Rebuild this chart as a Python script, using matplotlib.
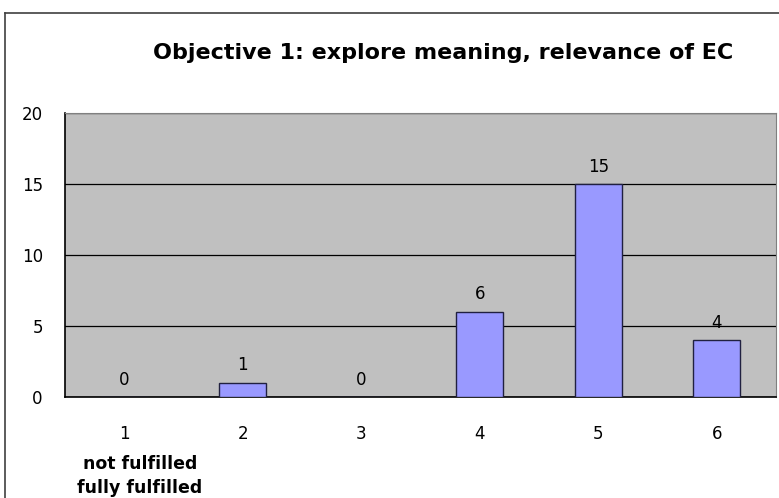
import matplotlib.pyplot as plt
from matplotlib.lines import Line2D

# Data
categories = ["1", "2", "3", "4", "5", "6"]
counts = [0, 1, 0, 6, 15, 4]
y_ticks = [0, 5, 10, 15, 20]
title = "Objective 1: explore meaning, relevance of EC"
note_lines = ["not fulfilled", "fully fulfilled"]

plt.rcParams['font.family'] = ['DejaVu Sans']

fig = plt.figure(figsize=(7.79, 4.98), dpi=100)
fig.patch.set_facecolor('white')

# Outer chart border (top and left visible)
fig.add_artist(Line2D([5 / 779, 1.0], [1 - 13 / 498, 1 - 13 / 498],
                      transform=fig.transFigure, color='#404040', lw=1.2))
fig.add_artist(Line2D([5 / 779, 5 / 779], [0.0, 1 - 13 / 498],
                      transform=fig.transFigure, color='#404040', lw=1.2))

ax = fig.add_axes([65 / 779, 101 / 498, 711 / 779, 284 / 498])
ax.set_facecolor('#C0C0C0')

x = list(range(len(categories)))
bars = ax.bar(x, counts, width=0.4, color='#9999FF', edgecolor='#202040',
              linewidth=1.0, zorder=3)

for xi, v in zip(x, counts):
    ax.annotate(str(v), (xi, v), xytext=(0, 6), textcoords='offset points',
                ha='center', va='bottom', fontsize=12, zorder=4)

ax.set_xlim(-0.5, len(categories) - 0.5)
ax.set_ylim(0, 20)
ax.set_yticks(y_ticks)
ax.set_yticklabels([str(t) for t in y_ticks], fontsize=12)
ax.set_xticks(x)
ax.set_xticklabels(categories, fontsize=12)
ax.tick_params(axis='y', length=0, pad=16)
ax.tick_params(axis='x', length=0, pad=20)
ax.yaxis.grid(True, color='black', linewidth=0.9, zorder=1)
ax.set_axisbelow(True)

for side in ['top', 'right']:
    ax.spines[side].set_color('#808080')
for side in ['left', 'bottom']:
    ax.spines[side].set_color('black')
    ax.spines[side].set_linewidth(1.2)

fig.text(443 / 779, 1 - 53 / 498, title, ha='center', va='center',
         fontsize=16, fontweight='bold')
fig.text(140 / 779, 1 - 464 / 498, note_lines[0], ha='center', va='center',
         fontsize=12.5, fontweight='bold')
fig.text(140 / 779, 1 - 488 / 498, note_lines[1], ha='center', va='center',
         fontsize=12.5, fontweight='bold')

fig.savefig('out.png', dpi=100)
